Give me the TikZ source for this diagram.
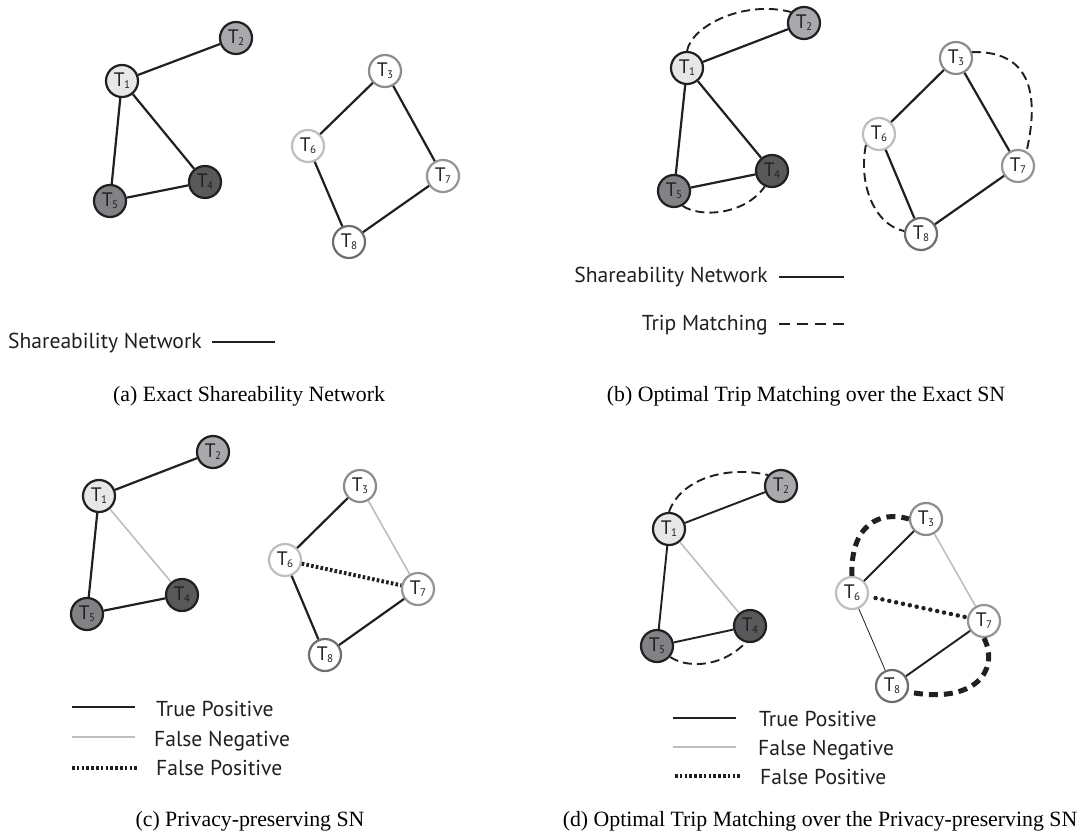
\documentclass[tikz,border=0pt]{standalone}
\usepackage{fontspec}
\setmainfont{Liberation Serif}
\newfontfamily\sansf{PT Sans}
\definecolor{ink}{HTML}{231F20}
\definecolor{fa}{HTML}{E6E7E8}
\definecolor{fb}{HTML}{A7A9AC}
\definecolor{fd}{HTML}{58595B}
\definecolor{fe}{HTML}{808285}
\definecolor{sc}{HTML}{8A8C8E}
\definecolor{sf}{HTML}{BCBEC0}
\definecolor{sg}{HTML}{939598}
\definecolor{sh}{HTML}{6D6E71}
\definecolor{fncol}{HTML}{BCBEC0}
\newcommand\Tl[1]{T\kern-0.6pt\raisebox{-1.8pt}{\fontsize{11}{11}\selectfont #1}}
\begin{document}
\begin{tikzpicture}[x=1pt,y=-1pt,
  tn/.style={circle,minimum size=32pt,inner sep=0pt,line width=2.2pt,text=ink,font=\sansf\fontsize{19.5}{19.5}\selectfont},
  na/.style={tn,fill=fa,draw=ink},
  nb/.style={tn,fill=fb,draw=ink},
  nd/.style={tn,fill=fd,draw=ink},
  ne/.style={tn,fill=fe,draw=ink},
  nc/.style={tn,fill=white,draw=sc},
  nf/.style={tn,fill=white,draw=sf},
  ng/.style={tn,fill=white,draw=sg},
  nh/.style={tn,fill=white,draw=sh},
  edge/.style={line width=2.2pt,draw=ink},
  thinedge/.style={line width=0.8pt,draw=ink},
  fnedge/.style={line width=1.6pt,draw=fncol},
  fpc/.style={line width=4pt,draw=ink,dash pattern=on 2.6pt off 2.2pt},
  fpd/.style={line width=4.5pt,draw=ink,line cap=round,dash pattern=on 0pt off 7pt},
  tm/.style={line width=1.9pt,draw=ink,dash pattern=on 9pt off 5pt},
  tmthick/.style={line width=5pt,draw=ink,dash pattern=on 9pt off 6pt},
  leg/.style={font=\sansf\fontsize{21.6}{21.6}\selectfont,text=ink,inner sep=0pt},
  capt/.style={font=\fontsize{21.8}{24}\selectfont,inner sep=0pt,anchor=base,text=black},
]
\useasboundingbox (0,0) rectangle (1080,831);

% ---------- panel (a)
\node[na] (a1) at (122,81) {\Tl{1}};
\node[nb] (a2) at (236,38) {\Tl{2}};
\node[nc] (a3) at (385,71) {\Tl{3}};
\node[nd] (a4) at (205,182) {\Tl{4}};
\node[ne] (a5) at (110,201) {\Tl{5}};
\node[nf] (a6) at (308,146) {\Tl{6}};
\node[ng] (a7) at (443,176) {\Tl{7}};
\node[nh] (a8) at (349,242) {\Tl{8}};
\draw[edge] (a1) -- (a2);
\draw[edge] (a1) -- (a5);
\draw[edge] (a1) -- (a4);
\draw[edge] (a5) -- (a4);
\draw[edge] (a3) -- (a6);
\draw[edge] (a3) -- (a7);
\draw[edge] (a6) -- (a8);
\draw[edge] (a8) -- (a7);
\node[leg,anchor=base west] (la) at (8,348) {Shareability Network};
\coordinate (la1) at (212,342);
\coordinate (la2) at (275,342);
\draw[edge] (la1) -- (la2);
\node[capt] (capa) at (249,401) {(a) Exact Shareability Network};

% ---------- panel (b)
\node[na] (b1) at (687,68) {\Tl{1}};
\node[nb] (b2) at (804,23) {\Tl{2}};
\node[nc] (b3) at (956,58) {\Tl{3}};
\node[nd] (b4) at (772,171) {\Tl{4}};
\node[ne] (b5) at (674,191) {\Tl{5}};
\node[nf] (b6) at (879,134) {\Tl{6}};
\node[ng] (b7) at (1018,166) {\Tl{7}};
\node[nh] (b8) at (921,234) {\Tl{8}};
\draw[edge] (b1) -- (b2);
\draw[edge] (b1) -- (b5);
\draw[edge] (b1) -- (b4);
\draw[edge] (b5) -- (b4);
\draw[edge] (b3) -- (b6);
\draw[edge] (b3) -- (b7);
\draw[edge] (b6) -- (b8);
\draw[edge] (b8) -- (b7);
\draw[tm] (b1.north) .. controls (692,25) and (745,0) .. (b2.140);
\draw[tm] (b5.-60) .. controls (700,218) and (745,215) .. (b4.-115);
\draw[tm] (b3.20) .. controls (1040,50) and (1036,110) .. (b7.60);
\draw[tm] (b6.-140) .. controls (858,185) and (875,225) .. (b8.170);
\node[leg,anchor=base east] (lb1) at (768,282) {Shareability Network};
\node[leg,anchor=base east] (lb2) at (768,330) {Trip Matching};
\coordinate (lb1a) at (779,277);
\coordinate (lb1b) at (844,277);
\coordinate (lb2a) at (779,324);
\coordinate (lb2b) at (844,324);
\draw[edge] (lb1a) -- (lb1b);
\draw[line width=2.2pt,draw=ink,dash pattern=on 11pt off 7pt] (lb2a) -- (lb2b);
\node[capt] (capb) at (806,401) {(b) Optimal Trip Matching over the Exact SN};

% ---------- panel (c)
\node[na] (c1) at (99,496) {\Tl{1}};
\node[nb] (c2) at (213,452) {\Tl{2}};
\node[nc] (c3) at (360,486) {\Tl{3}};
\node[nd] (c4) at (182,595) {\Tl{4}};
\node[ne] (c5) at (87,614) {\Tl{5}};
\node[nf] (c6) at (285,560) {\Tl{6}};
\node[ng] (c7) at (418,589) {\Tl{7}};
\node[nh] (c8) at (325,655) {\Tl{8}};
\draw[edge] (c1) -- (c2);
\draw[edge] (c1) -- (c5);
\draw[fnedge] (c1) -- (c4);
\draw[edge] (c5) -- (c4);
\draw[edge] (c3) -- (c6);
\draw[fnedge] (c3) -- (c7);
\draw[edge] (c6) -- (c8);
\draw[edge] (c8) -- (c7);
\draw[fpc] (c6) -- (c7);
\coordinate (lc1a) at (72,707); \coordinate (lc1b) at (135,707);
\coordinate (lc2a) at (72,737); \coordinate (lc2b) at (135,737);
\coordinate (lc3a) at (72,768); \coordinate (lc3b) at (137,768);
\draw[edge] (lc1a) -- (lc1b);
\draw[fnedge] (lc2a) -- (lc2b);
\draw[fpc] (lc3a) -- (lc3b);
\node[leg,anchor=base west] (lct1) at (156,716) {True Positive};
\node[leg,anchor=base west] (lct2) at (154,746) {False Negative};
\node[leg,anchor=base west] (lct3) at (156,775) {False Positive};
\node[capt] (capc) at (250,826) {(c) Privacy-preserving SN};

% ---------- panel (d)
\node[na] (d1) at (669,529) {\Tl{1}};
\node[nb] (d2) at (781,486) {\Tl{2}};
\node[nc] (d3) at (926,519) {\Tl{3}};
\node[nd] (d4) at (750,626) {\Tl{4}};
\node[ne] (d5) at (657,646) {\Tl{5}};
\node[nf] (d6) at (852,593) {\Tl{6}};
\node[ng] (d7) at (984,621) {\Tl{7}};
\node[nh] (d8) at (892,686) {\Tl{8}};
\draw[edge,line width=1.9pt] (d1) -- (d2);
\draw[edge,line width=1.9pt] (d1) -- (d5);
\draw[fnedge] (d1) -- (d4);
\draw[edge,line width=1.9pt] (d5) -- (d4);
\draw[edge,line width=1.9pt] (d3) -- (d6);
\draw[fnedge] (d3) -- (d7);
\draw[thinedge] (d6) -- (d8);
\draw[edge,line width=1.9pt] (d8) -- (d7);
\draw[fpd,shorten <=7pt,shorten >=2pt] (d6) -- (d7);
\draw[tm] (d1.north) .. controls (680,480) and (725,465) .. (d2.140);
\draw[tm] (d5.-40) .. controls (690,670) and (725,665) .. (d4.-105);
\draw[tmthick] (d6.north) .. controls (850,525) and (880,510) .. (d3.west);
\draw[tmthick] (d7.south) .. controls (1000,670) and (975,705) .. (d8.-20);
\coordinate (ld1a) at (673,718); \coordinate (ld1b) at (736,718);
\coordinate (ld2a) at (673,747); \coordinate (ld2b) at (736,747);
\coordinate (ld3a) at (675,776); \coordinate (ld3b) at (742,776);
\draw[edge] (ld1a) -- (ld1b);
\draw[fnedge] (ld2a) -- (ld2b);
\draw[fpc] (ld3a) -- (ld3b);
\node[leg,anchor=base west] (ldt1) at (759,726) {True Positive};
\node[leg,anchor=base west] (ldt2) at (758,755) {False Negative};
\node[leg,anchor=base west] (ldt3) at (760,784) {False Positive};
\node[capt] (capd) at (820,826) {(d) Optimal Trip Matching over the Privacy-preserving SN};
\end{tikzpicture}
\end{document}
